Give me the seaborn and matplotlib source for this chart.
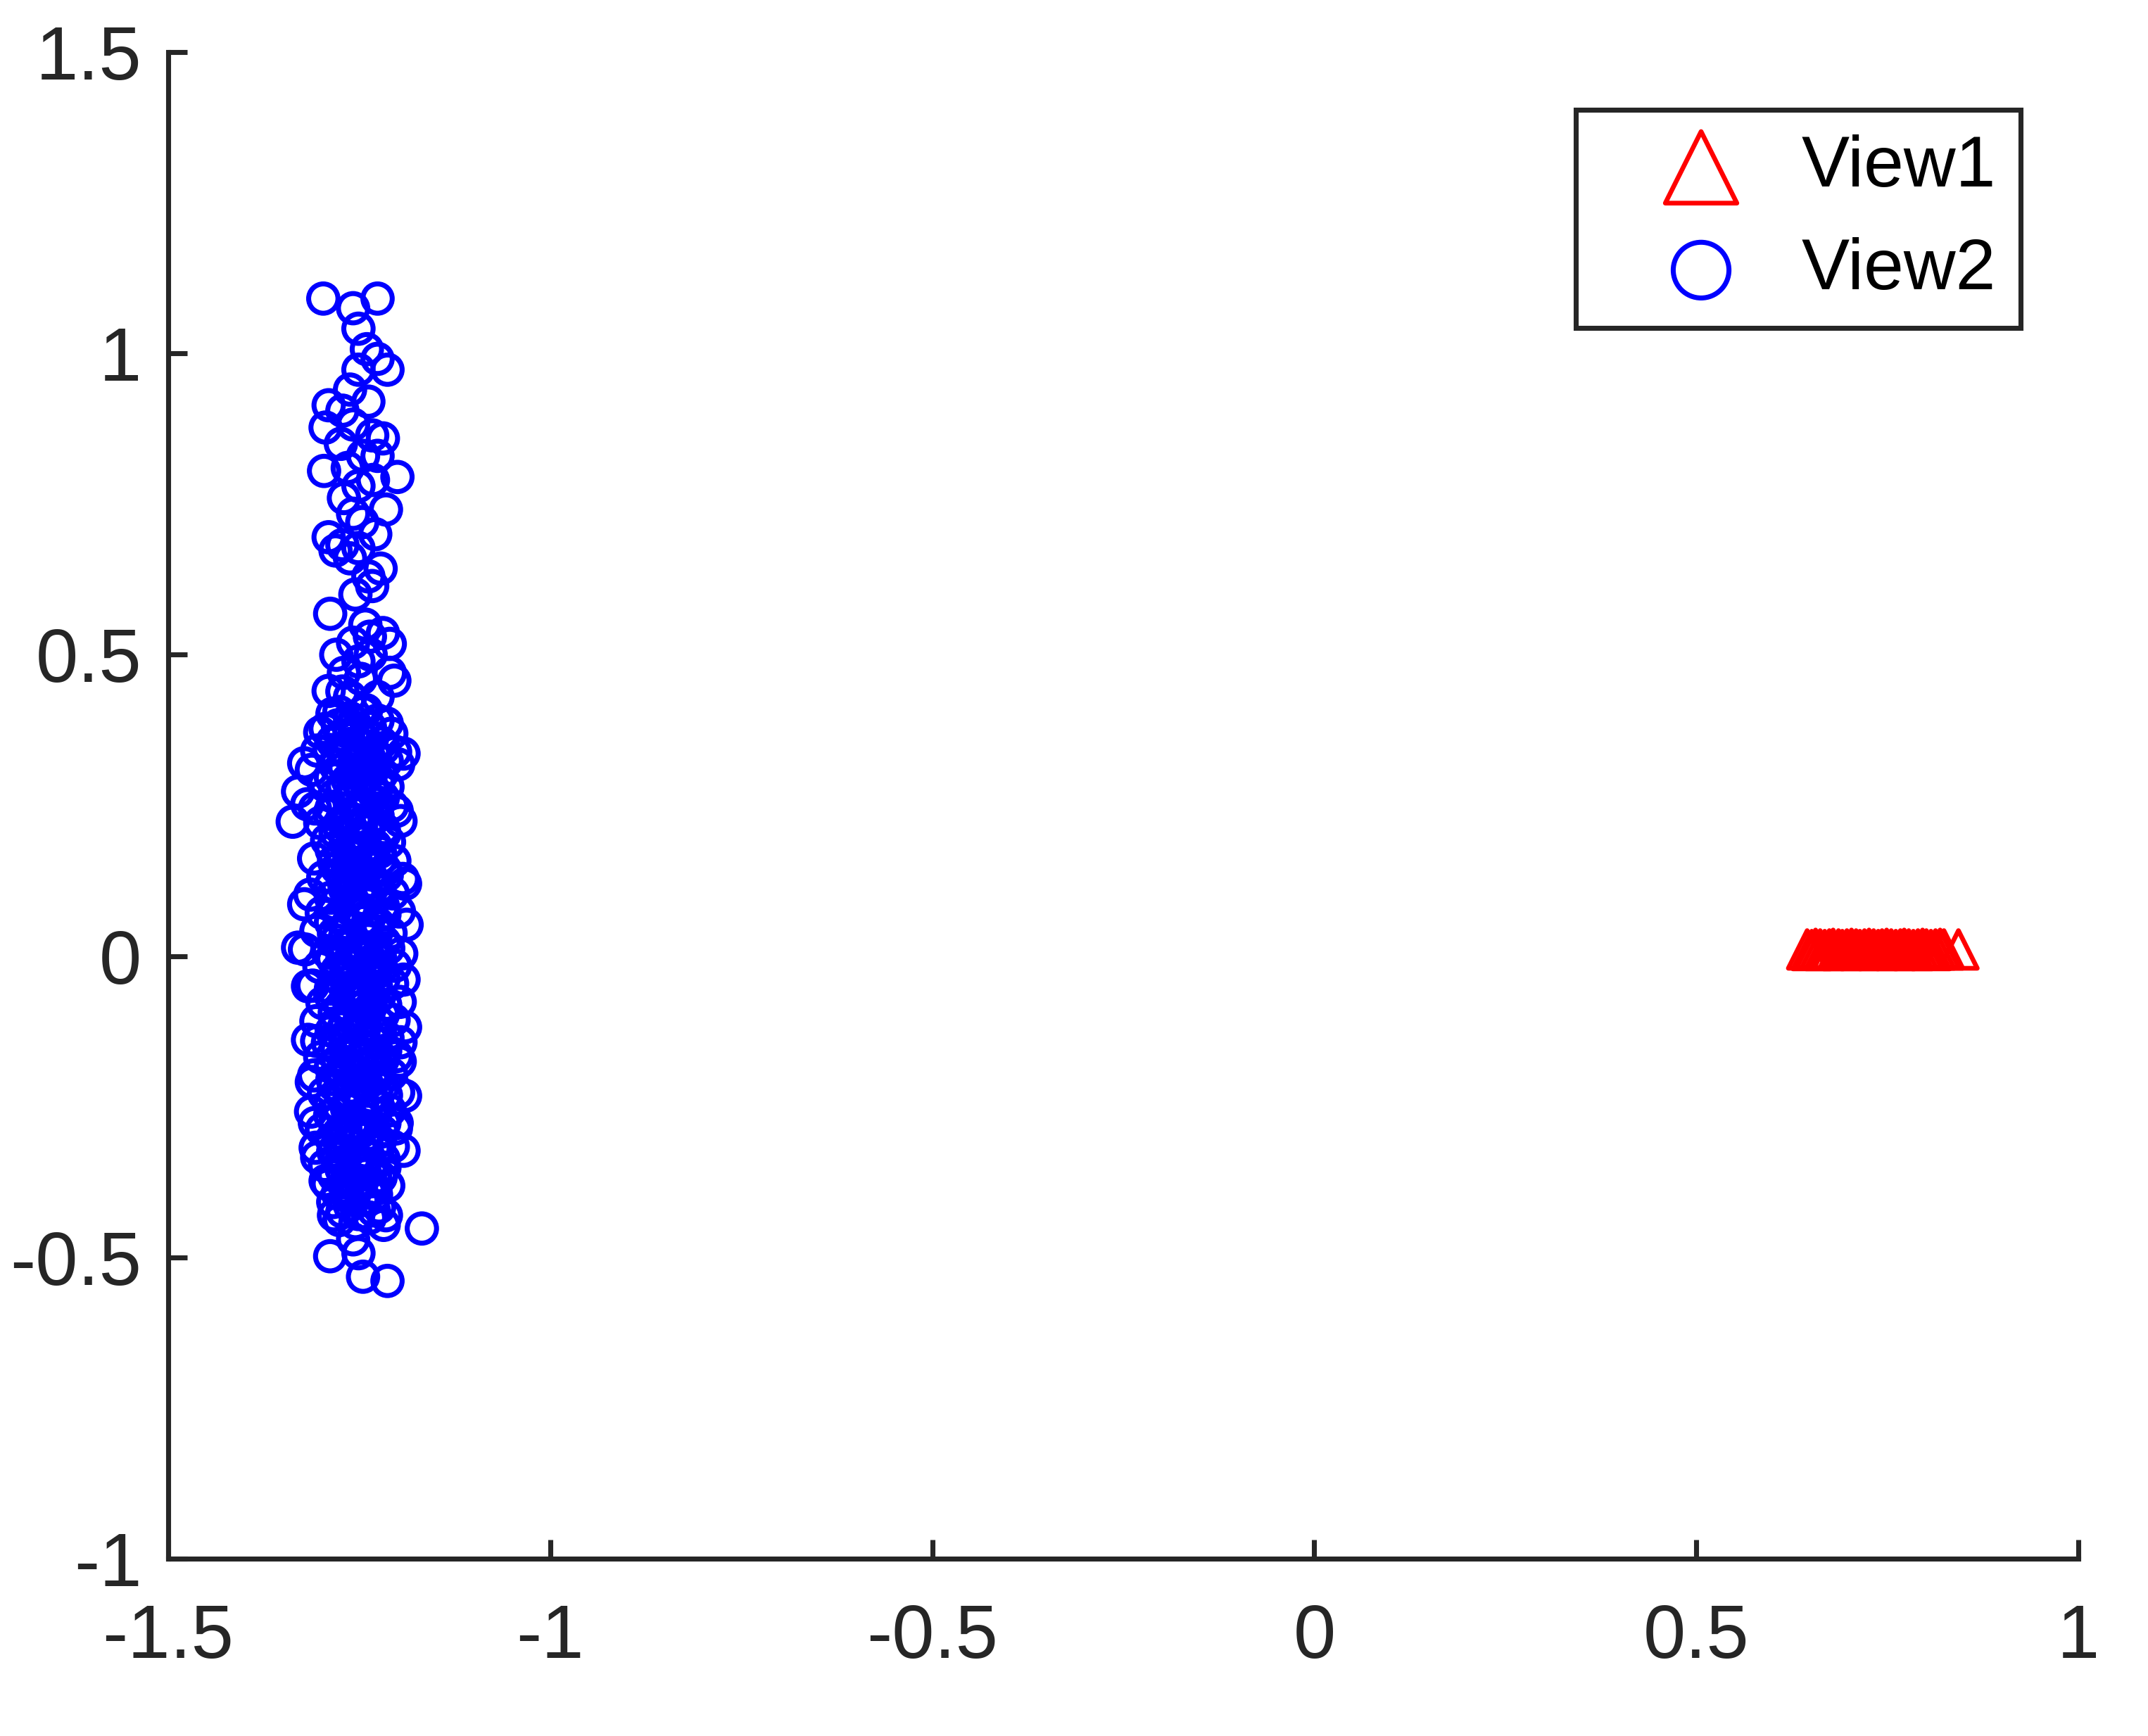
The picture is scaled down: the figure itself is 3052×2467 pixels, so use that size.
import matplotlib
matplotlib.use('Agg')
import matplotlib.pyplot as plt
import seaborn as sns
import pandas as pd

# View1: red triangles along y ~ 0
view1_x = [0.645, 0.651, 0.656, 0.662, 0.668, 0.674, 0.679, 0.686, 0.691, 0.697,
           0.703, 0.709, 0.714, 0.720, 0.726, 0.732, 0.738, 0.743, 0.749, 0.755,
           0.761, 0.767, 0.772, 0.778, 0.784, 0.790, 0.796, 0.801, 0.807, 0.813,
           0.819, 0.824, 0.843]
view1_y = [0.011, 0.010, 0.012, 0.011, 0.010, 0.011, 0.012, 0.011, 0.010, 0.011,
           0.012, 0.011, 0.010, 0.011, 0.012, 0.011, 0.010, 0.011, 0.012, 0.011,
           0.010, 0.011, 0.012, 0.011, 0.010, 0.011, 0.012, 0.011, 0.010, 0.011,
           0.012, 0.011, 0.011]

# View2: blue circles, upper sparse part and outliers
view2_x = [-1.297, -1.258, -1.226, -1.251, -1.240, -1.226, -1.213, -1.251, -1.290, -1.272,
           -1.258, -1.294, -1.233, -1.219, -1.226, -1.296, -1.200, -1.251, -1.215, -1.258,
           -1.290, -1.281, -1.272, -1.251, -1.222, -1.233, -1.288, -1.219, -1.210, -1.236,
           -1.204, -1.251, -1.272, -1.276, -1.245, -1.263, -1.294, -1.192, -1.322, -1.305,
           -1.330, -1.337, -1.308, -1.201, -1.190, -1.322, -1.188, -1.330, -1.317, -1.192,
           -1.305, -1.190, -1.197, -1.312, -1.190, -1.308, -1.201, -1.305, -1.192, -1.294,
           -1.283, -1.215, -1.168, -1.288, -1.251, -1.245, -1.213, -1.258,
           -1.262, -1.238, -1.274, -1.245, -1.265, -1.232, -1.270, -1.246, -1.229, -1.262,
           -1.238, -1.255, -1.242, -1.258, -1.235, -1.270, -1.248, -1.226, -1.262, -1.290,
           -1.210, -1.280]
view2_y = [1.091, 1.075, 1.091, 1.041, 1.007, 0.991, 0.973, 0.973, 0.914, 0.905,
           0.882, 0.877, 0.864, 0.859, 0.830, 0.805, 0.795, 0.780, 0.741, 0.734,
           0.695, 0.673, 0.682, 0.677, 0.643, 0.614, 0.568, 0.536, 0.518, 0.530,
           0.457, 0.489, 0.439, 0.405, 0.405, 0.377, 0.377, 0.336, 0.320, 0.341,
           0.273, 0.223, 0.245, 0.241, 0.120, 0.086, 0.052, 0.014, -0.050, -0.039,
           -0.141, -0.118, -0.175, -0.209, -0.232, -0.277, -0.277, -0.334, -0.323, -0.373,
           -0.430, -0.430, -0.452, -0.498, -0.493, -0.532, -0.539, -0.470,
           0.940, 0.920, 0.850, 0.830, 0.810, 0.790, 0.760, 0.720, 0.700, 0.660,
           0.630, 0.600, 0.550, 0.520, 0.500, 0.470, 0.460, 0.430, 0.430, 0.440,
           0.470, 0.500]

# View2: dense core
core_x = [-1.285, -1.262, -1.241, -1.226, -1.214,
          -1.301, -1.273, -1.252, -1.233, -1.208,
          -1.289, -1.266, -1.247, -1.229, -1.218, -1.203,
          -1.312, -1.281, -1.258, -1.238, -1.221, -1.199,
          -1.296, -1.272, -1.251, -1.232, -1.213,
          -1.318, -1.286, -1.263, -1.244, -1.226, -1.207,
          -1.301, -1.276, -1.255, -1.236, -1.218, -1.196,
          -1.292, -1.268, -1.249, -1.229, -1.211,
          -1.309, -1.283, -1.259, -1.241, -1.222, -1.204,
          -1.297, -1.271, -1.252, -1.233, -1.214, -1.193,
          -1.314, -1.287, -1.262, -1.244, -1.225, -1.206,
          -1.299, -1.276, -1.256, -1.237, -1.217, -1.198,
          -1.306, -1.283, -1.263, -1.245, -1.227, -1.209,
          -1.321, -1.291, -1.268, -1.249, -1.231, -1.212, -1.195,
          -1.302, -1.279, -1.258, -1.239, -1.221, -1.203,
          -1.311, -1.287, -1.266, -1.247, -1.228, -1.207,
          -1.298, -1.274, -1.255, -1.236, -1.216, -1.197,
          -1.306, -1.282, -1.261, -1.243, -1.224, -1.205,
          -1.317, -1.291, -1.269, -1.250, -1.232, -1.213, -1.196,
          -1.301, -1.278, -1.257, -1.238, -1.219, -1.201,
          -1.309, -1.285, -1.264, -1.246, -1.227, -1.208,
          -1.296, -1.272, -1.253, -1.234, -1.215, -1.199,
          -1.313, -1.288, -1.266, -1.247, -1.229, -1.210,
          -1.299, -1.277, -1.258, -1.239, -1.220, -1.202,
          -1.307, -1.284, -1.263, -1.244, -1.226, -1.206,
          -1.295, -1.273, -1.254, -1.235, -1.217,
          -1.291, -1.268, -1.249, -1.229, -1.212,
          -1.284, -1.262, -1.243, -1.224,
          -1.276, -1.255, -1.236, -1.218]
core_y = [0.402, 0.395, 0.408, 0.391, 0.386,
          0.371, 0.366, 0.378, 0.362, 0.369,
          0.342, 0.337, 0.348, 0.333, 0.345, 0.339,
          0.309, 0.316, 0.304, 0.312, 0.301, 0.318,
          0.284, 0.277, 0.289, 0.272, 0.281,
          0.252, 0.246, 0.258, 0.243, 0.255, 0.249,
          0.221, 0.214, 0.226, 0.218, 0.211, 0.224,
          0.192, 0.186, 0.197, 0.183, 0.189,
          0.162, 0.157, 0.166, 0.154, 0.161, 0.158,
          0.131, 0.126, 0.137, 0.123, 0.134, 0.128,
          0.102, 0.097, 0.106, 0.093, 0.099, 0.104,
          0.072, 0.066, 0.077, 0.063, 0.069, 0.074,
          0.042, 0.037, 0.046, 0.034, 0.041, 0.038,
          0.011, 0.006, 0.015, 0.003, 0.009, 0.013, 0.004,
          -0.018, -0.024, -0.013, -0.027, -0.021, -0.016,
          -0.049, -0.054, -0.044, -0.057, -0.051, -0.046,
          -0.078, -0.084, -0.073, -0.087, -0.081, -0.076,
          -0.108, -0.114, -0.103, -0.117, -0.111, -0.106,
          -0.139, -0.144, -0.134, -0.147, -0.141, -0.136, -0.143,
          -0.168, -0.174, -0.163, -0.177, -0.171, -0.166,
          -0.198, -0.204, -0.193, -0.207, -0.201, -0.196,
          -0.228, -0.234, -0.223, -0.237, -0.231, -0.226,
          -0.258, -0.264, -0.253, -0.267, -0.261, -0.256,
          -0.288, -0.294, -0.283, -0.297, -0.291, -0.286,
          -0.318, -0.324, -0.313, -0.327, -0.321, -0.316,
          -0.348, -0.354, -0.343, -0.357, -0.351,
          -0.378, -0.384, -0.373, -0.387, -0.381,
          -0.408, -0.414, -0.403, -0.417,
          -0.438, -0.443, -0.434, -0.446]

# View2: inner part of the core, between the rows above
inner_x = [-1.278, -1.257, -1.236,
           -1.285, -1.262, -1.243, -1.221,
           -1.279, -1.256, -1.237, -1.214,
           -1.287, -1.265, -1.244, -1.225,
           -1.283, -1.261, -1.240, -1.219,
           -1.289, -1.266, -1.246, -1.226,
           -1.281, -1.259, -1.239, -1.217,
           -1.286, -1.264, -1.243, -1.223,
           -1.279, -1.257, -1.238, -1.216,
           -1.288, -1.266, -1.245, -1.224,
           -1.282, -1.260, -1.241, -1.219,
           -1.287, -1.265, -1.246, -1.225,
           -1.280, -1.258, -1.238, -1.217,
           -1.285, -1.263, -1.243, -1.222,
           -1.281, -1.259, -1.240, -1.218,
           -1.288, -1.266, -1.245, -1.224,
           -1.282, -1.260, -1.239, -1.219,
           -1.286, -1.264, -1.244, -1.223,
           -1.279, -1.258, -1.238, -1.216,
           -1.287, -1.265, -1.245, -1.225,
           -1.283, -1.261, -1.240, -1.219,
           -1.288, -1.266, -1.246, -1.226,
           -1.281, -1.259, -1.239, -1.217,
           -1.286, -1.264, -1.243, -1.223,
           -1.279, -1.257, -1.238, -1.218,
           -1.283, -1.262, -1.242, -1.222,
           -1.278, -1.257, -1.237,
           -1.272, -1.251, -1.231]
inner_y = [0.383, 0.389, 0.380,
           0.356, 0.352, 0.359, 0.354,
           0.327, 0.322, 0.329, 0.324,
           0.296, 0.292, 0.298, 0.293,
           0.266, 0.262, 0.268, 0.263,
           0.236, 0.232, 0.238, 0.233,
           0.206, 0.202, 0.208, 0.203,
           0.176, 0.172, 0.178, 0.173,
           0.146, 0.142, 0.148, 0.143,
           0.116, 0.112, 0.118, 0.113,
           0.086, 0.082, 0.088, 0.083,
           0.056, 0.052, 0.058, 0.053,
           0.026, 0.022, 0.028, 0.023,
           -0.004, -0.008, -0.002, -0.007,
           -0.034, -0.038, -0.032, -0.037,
           -0.064, -0.068, -0.062, -0.067,
           -0.094, -0.098, -0.092, -0.097,
           -0.124, -0.128, -0.122, -0.127,
           -0.154, -0.158, -0.152, -0.157,
           -0.184, -0.188, -0.182, -0.187,
           -0.214, -0.218, -0.212, -0.217,
           -0.244, -0.248, -0.242, -0.247,
           -0.274, -0.278, -0.272, -0.277,
           -0.304, -0.308, -0.302, -0.307,
           -0.334, -0.338, -0.332, -0.337,
           -0.364, -0.368, -0.362, -0.367,
           -0.394, -0.398, -0.392,
           -0.424, -0.428, -0.422]

# View2: centre of the core
centre_x = [-1.268, -1.249, -1.231, -1.271, -1.252, -1.233, -1.266, -1.247, -1.229,
            -1.273, -1.254, -1.235, -1.269, -1.250, -1.232, -1.265, -1.246, -1.228,
            -1.272, -1.253, -1.234, -1.267, -1.248, -1.230, -1.270, -1.251, -1.233,
            -1.266, -1.247, -1.229, -1.272, -1.253, -1.235, -1.268, -1.249, -1.231,
            -1.271, -1.252, -1.234, -1.265, -1.246, -1.228, -1.269, -1.250, -1.232,
            -1.273, -1.254, -1.236, -1.267, -1.248, -1.230, -1.270, -1.251, -1.233,
            -1.266, -1.247, -1.229]
centre_y = [0.341, 0.334, 0.338, 0.283, 0.289, 0.280, 0.227, 0.221, 0.230,
            0.168, 0.174, 0.165, 0.112, 0.106, 0.115, 0.053, 0.059, 0.050,
            -0.005, 0.001, -0.008, -0.061, -0.067, -0.058, -0.118, -0.112, -0.121,
            -0.176, -0.182, -0.173, -0.231, -0.225, -0.234, -0.287, -0.293, -0.284,
            -0.343, -0.337, -0.346, -0.399, -0.405, -0.396, 0.312, 0.305, 0.309,
            0.139, 0.145, 0.136, -0.033, -0.039, -0.030, -0.203, -0.197, -0.206,
            -0.371, -0.377, -0.368]

x_ticks = [-1.5, -1, -0.5, 0, 0.5, 1]
x_labels = ['-1.5', '-1', '-0.5', '0', '0.5', '1']
y_ticks = [-1, -0.5, 0, 0.5, 1, 1.5]
y_labels = ['-1', '-0.5', '0', '0.5', '1', '1.5']

sns.set_style('white')
plt.rcParams['font.family'] = ['Liberation Sans', 'DejaVu Sans']
plt.rcParams['axes.unicode_minus'] = False

axcol = '#262626'
df1 = pd.DataFrame({'x': view1_x, 'y': view1_y})
df2 = pd.DataFrame({'x': view2_x + core_x + inner_x + centre_x,
                    'y': view2_y + core_y + inner_y + centre_y})

fig = plt.figure(figsize=(3052/300, 2467/300), dpi=300)
ax = fig.add_axes([0.0783, 0.1021, 0.8893, 0.8679])

sns.scatterplot(data=df1, x='x', y='y', marker='^', s=165, facecolors='none',
                edgecolor='#ff0000', linewidth=1.6, label='View1', ax=ax)
sns.scatterplot(data=df2, x='x', y='y', marker='o', s=100, facecolors='none',
                edgecolor='#0000ff', linewidth=1.7, label='View2', ax=ax)

ax.set_xlim(-1.5, 1)
ax.set_ylim(-1, 1.5)
ax.set_xticks(x_ticks)
ax.set_xticklabels(x_labels)
ax.set_yticks(y_ticks)
ax.set_yticklabels(y_labels)
ax.set_xlabel('')
ax.set_ylabel('')

for side in ['top', 'right']:
    ax.spines[side].set_visible(False)
for side in ['left', 'bottom']:
    ax.spines[side].set_linewidth(1.7)
    ax.spines[side].set_color(axcol)

ax.tick_params(axis='both', direction='in', length=6.5, width=1.7, color=axcol,
               labelcolor=axcol, labelsize=26)
ax.tick_params(axis='x', pad=15, bottom=True)
ax.tick_params(axis='y', pad=9, left=True)

leg = ax.legend(loc='upper right', bbox_to_anchor=(0.9407, 0.9368),
                bbox_transform=fig.transFigure, fontsize=24.5, markerscale=1.9,
                frameon=True, fancybox=False, framealpha=1, borderpad=0.34,
                labelspacing=0.5, handlelength=2.8, handletextpad=0.0,
                borderaxespad=0)
leg.get_frame().set_edgecolor(axcol)
leg.get_frame().set_linewidth(1.7)
for t in leg.get_texts():
    t.set_color('black')

fig.savefig('out.png', dpi=300)
